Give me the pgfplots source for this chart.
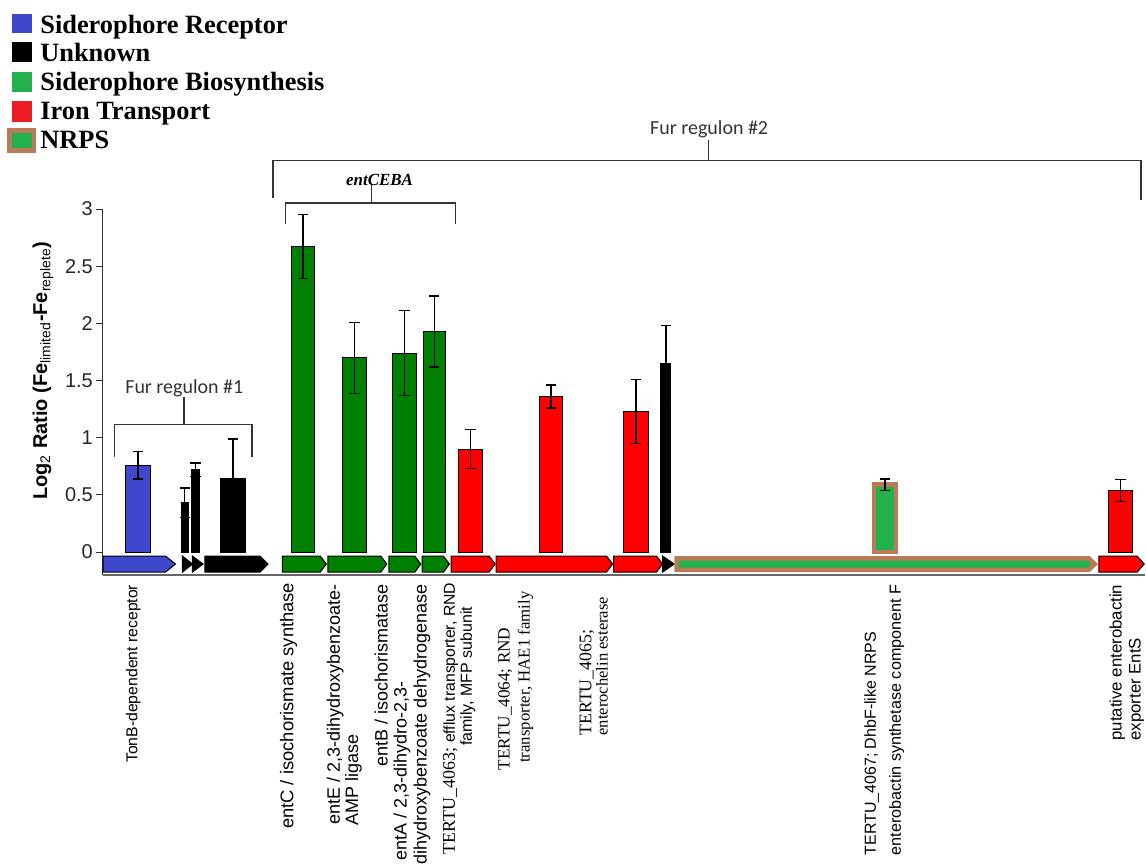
\documentclass[border=0pt]{standalone}
\usepackage{fontspec}
\setmainfont{Liberation Sans}
\newfontfamily\serif{Liberation Serif}
\newfontfamily\calibri{Carlito}
\usepackage{pgfplots}
\pgfplotsset{compat=1.18}

\definecolor{recblue}{RGB}{63,72,204}
\definecolor{biogreen}{RGB}{0,128,0}
\definecolor{nrpsgreen}{RGB}{34,177,76}
\definecolor{nrpsbrown}{RGB}{185,122,87}
\definecolor{legred}{RGB}{237,28,36}

\newcommand\fs[1]{\fontsize{#1}{#1}\selectfont}

\pgfplotsset{
  genebar/.style={ybar, bar shift=0pt, draw=black, line width=0.5pt,
    error bars/y dir=both, error bars/y explicit,
    error bars/error bar style={black, line width=0.65pt},
    error bars/error mark options={rotate=90, black, line width=0.65pt, mark size=2.6pt}},
  gene/.style={draw=black, line width=0.5pt},
}

\begin{document}
\begin{tikzpicture}
\begin{scope}[x=0.5pt, y=-0.5pt]
\useasboundingbox (0,0) rectangle (1146,867);
\end{scope}

% main axis; lower-left corner at pixel (103, 575.7)
\begin{axis}[
  at={(51.5pt,-287.85pt)}, anchor=south west,
  scale only axis, width=521.5pt, height=183.2pt,
  xmin=103, xmax=1146, ymin=-0.2009, ymax=3,
  axis x line=bottom, axis y line=left,
  axis line style={-},
  x axis line style={-, draw=black!60, line width=1.3pt},
  y axis line style={-, draw=black!80, line width=0.6pt},
  xtick=\empty,
  ytick={0,0.5,1,1.5,2,2.5,3},
  yticklabels={0,0.5,1,1.5,2,2.5,3},
  tick align=outside, major tick length=3.5pt,
  tick style={black!80, line width=0.5pt},
  /pgf/number format/assume math mode=true,
  yticklabel style={font=\fs{10pt}, text=black!85, xshift=2pt},
  clip=false,
]
% gene map: arrows drawn below the zero line
\addplot[gene, fill=recblue] coordinates {(103.3,-0.035) (165.7,-0.035) (175.7,-0.105) (165.7,-0.175) (103.3,-0.175)} -- cycle;
\addplot[gene, fill=black] coordinates {(182.7,-0.035) (192.7,-0.105) (182.7,-0.175)} -- cycle;
\addplot[gene, fill=black] coordinates {(192.7,-0.035) (203.3,-0.105) (192.7,-0.175)} -- cycle;
\addplot[gene, fill=black] coordinates {(205,-0.035) (260.3,-0.035) (268.3,-0.105) (260.3,-0.175) (205,-0.175)} -- cycle;
\addplot[gene, fill=biogreen] coordinates {(282.7,-0.035) (320.7,-0.035) (326.7,-0.105) (320.7,-0.175) (282.7,-0.175)} -- cycle;
\addplot[gene, fill=biogreen] coordinates {(328.3,-0.035) (381.3,-0.035) (387.3,-0.105) (381.3,-0.175) (328.3,-0.175)} -- cycle;
\addplot[gene, fill=biogreen] coordinates {(389.3,-0.035) (415.3,-0.035) (421.3,-0.105) (415.3,-0.175) (389.3,-0.175)} -- cycle;
\addplot[gene, fill=biogreen] coordinates {(422.7,-0.035) (444,-0.035) (450,-0.105) (444,-0.175) (422.7,-0.175)} -- cycle;
\addplot[gene, fill=red] coordinates {(451.7,-0.035) (489.7,-0.035) (495.7,-0.105) (489.7,-0.175) (451.7,-0.175)} -- cycle;
\addplot[gene, fill=red] coordinates {(496.7,-0.035) (607.3,-0.035) (613.3,-0.105) (607.3,-0.175) (496.7,-0.175)} -- cycle;
\addplot[gene, fill=red] coordinates {(614.3,-0.035) (657.3,-0.035) (663.3,-0.105) (657.3,-0.175) (614.3,-0.175)} -- cycle;
\addplot[gene, fill=black] coordinates {(663.3,-0.035) (675,-0.105) (663.3,-0.175)} -- cycle;
\addplot[draw=nrpsbrown, line width=2.25pt, fill=nrpsgreen] coordinates {(677.5,-0.055) (1090,-0.055) (1096,-0.105) (1090,-0.155) (677.5,-0.155)} -- cycle;
\addplot[gene, fill=red] coordinates {(1100,-0.035) (1138.5,-0.035) (1145.5,-0.105) (1138.5,-0.175) (1100,-0.175)} -- cycle;

% expression bars with error bars
\addplot[genebar, bar width=24.7, fill=recblue] coordinates {(138.3,0.76) +- (0,0.12)};
\addplot[genebar, bar width=6.7, fill=black] coordinates {(185,0.43) +- (0,0.13)};
\addplot[genebar, bar width=8.3, fill=black] coordinates {(195.8,0.72) +- (0,0.06)};
\addplot[genebar, bar width=25, fill=black] coordinates {(233.2,0.64) +- (0,0.35)};
\addplot[genebar, bar width=23.3, fill=biogreen] coordinates {(303.3,2.67) +- (0,0.28)};
\addplot[genebar, bar width=24.6, fill=biogreen] coordinates {(355,1.70) +- (0,0.31)};
\addplot[genebar, bar width=24.3, fill=biogreen] coordinates {(404.8,1.74) +- (0,0.37)};
\addplot[genebar, bar width=22, fill=biogreen] coordinates {(434.7,1.93) +- (0,0.31)};
\addplot[genebar, bar width=24, fill=red] coordinates {(471,0.90) +- (0,0.17)};
\addplot[genebar, bar width=23, fill=red] coordinates {(551.5,1.36) +- (0,0.10)};
\addplot[genebar, bar width=24.7, fill=red] coordinates {(636.7,1.23) +- (0,0.28)};
\addplot[genebar, bar width=10, fill=black] coordinates {(666.7,1.65) +- (0,0.33)};
\addplot[genebar, bar width=22, fill=nrpsgreen, draw=nrpsbrown, line width=2.25pt] coordinates {(886,0.59) +- (0,0.05)};
\addplot[genebar, bar width=24.7, fill=red] coordinates {(1121.7,0.54) +- (0,0.095)};
\end{axis}

\begin{scope}[x=0.5pt, y=-0.5pt]
% y axis title
\node[rotate=90, font=\bfseries\fs{10pt}] at (43,371)
  {Log\textsubscript{\mdseries 2} Ratio (Fe\textsubscript{\mdseries limited}-Fe\textsubscript{\mdseries replete})};

% operon brackets
\begin{scope}[draw=black!80, line width=0.65pt]
  \draw (114.3,457.3) -- (114.3,425) -- (252.3,425) -- (252.3,457.3);
  \draw (184.3,425) -- (184.3,397.3);
  \draw (273.3,198.3) -- (273.3,161) -- (1142.3,161) -- (1142.3,200);
  \draw (709,161) -- (709,140);
  \draw (285.7,224.3) -- (285.7,203.3) -- (456,203.3) -- (456,224.3);
  \draw (371.7,203.3) -- (371.7,184);
\end{scope}
\node[anchor=base, inner sep=0, font=\calibri\fs{10pt}, text=black!80] at (184.5,394) {Fur regulon \#1};
\node[anchor=base, inner sep=0, font=\calibri\fs{10pt}, text=black!80] at (710,135) {Fur regulon \#2};
\node[anchor=base, inner sep=0, font=\serif\bfseries\itshape\fs{8.5pt}] at (380,186) {entCEBA};

% legend
\fill[recblue] (11.7,14) rectangle (32.3,33);
\fill[black] (11.7,41.7) rectangle (32.3,61.7);
\fill[nrpsgreen] (11.7,71.7) rectangle (32.3,91.7);
\fill[legred] (11.7,101) rectangle (32.3,121.7);
\fill[nrpsbrown] (7.3,128.3) rectangle (36,153.3);
\fill[nrpsgreen] (11.7,133.3) rectangle (32.3,148.3);
\begin{scope}[every node/.style={anchor=base west, inner sep=0, font=\serif\bfseries\fs{13.2pt}}]
  \node at (40,33.3) {Siderophore Receptor};
  \node at (40,61.7) {Unknown};
  \node at (40,90.7) {Siderophore Biosynthesis};
  \node at (40,120) {Iron Transport};
  \node at (40,148.3) {NRPS};
\end{scope}

% gene names under the map
\begin{scope}[every node/.style={rotate=90, inner sep=0}]
  \node[anchor=mid east, font=\fs{7.9pt}] at (132.3,585) {TonB-dependent receptor};
  \node[anchor=mid east, font=\fs{9.2pt}] at (288.3,583) {entC / isochorismate synthase};
  \node[anchor=mid east, font=\fs{9pt}] at (335,585) {entE / 2,3-dihydroxybenzoate-};
  \node[anchor=mid west, font=\fs{9pt}] at (353.3,827) {AMP ligase};
  \node[anchor=mid east, font=\fs{9pt}] at (382.7,585) {entB / isochorismatase};
  \node[anchor=mid east, font=\fs{9pt}] at (401.7,681.7) {entA / 2,3-dihydro-2,3-};
  \node[anchor=mid east, font=\fs{9pt}] at (421.7,585) {dihydroxybenzoate dehydrogenase};
  \node[anchor=mid east, font=\fs{7.9pt}] at (450,583) {{\serif\fs{9pt}TERTU\_4063;} efflux transporter, RND};
  \node[anchor=mid east, font=\fs{8pt}] at (467,607) {family, MFP subunit};
  \node[anchor=mid east, font=\serif\fs{8.6pt}] at (505,628) {TERTU\_4064; RND};
  \node[anchor=mid east, font=\serif\fs{8.4pt}] at (525,591.7) {transporter, HAE1 family};
  \node[anchor=mid west, font=\serif\fs{8.9pt}] at (586.7,736.7) {TERTU\_4065;};
  \node[anchor=mid west, font=\serif\fs{8.3pt}] at (603,736.7) {enterochelin esterase};
  \node[anchor=mid west, font=\fs{8pt}] at (871.7,856.7) {TERTU\_4067; DhbF-like NRPS};
  \node[anchor=mid west, font=\fs{8.1pt}] at (896.7,856.7) {enterobactin synthetase component F};
  \node[anchor=mid west, font=\fs{8.4pt}] at (1117.7,741.7) {putative enterobactin};
  \node[anchor=mid west, font=\fs{8.4pt}] at (1136.7,741.7) {exporter EntS};
\end{scope}
\end{scope}
\end{tikzpicture}
\end{document}
